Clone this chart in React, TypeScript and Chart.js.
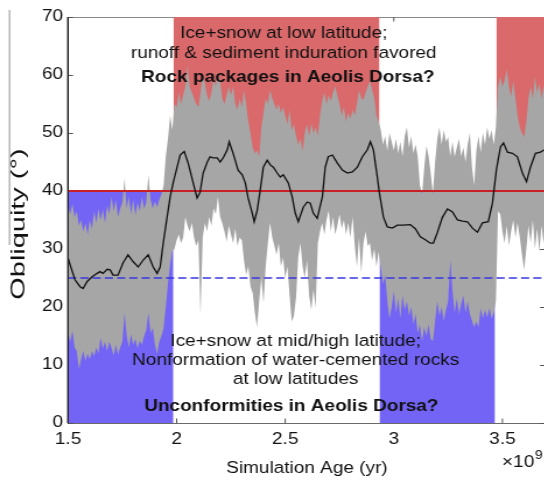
import { useEffect, useRef } from "react";
import { Chart, registerables } from "chart.js";

Chart.register(...registerables);

// ---------- data ----------
const AGE_START = 1.5; // ×10^9 yr
const AGE_STEP = 0.01;

// upper envelope of the oscillating obliquity (deg), 1.50 … 3.70
const obliquityUpper = [
  37.5, 36, 37.8, 35.5, 36.5, 34, 35, 33, 34.5, 32.5,
  35, 33.5, 36.5, 34.5, 37, 35, 36.8, 34.5, 37.5, 36,
  39, 36.5, 38.5, 35.5, 37, 38, 42.2, 37, 39, 36,
  38.5, 35.8, 38, 36.5, 39, 37, 38, 42.8, 38.5, 37,
  38.2, 37.2, 38.5, 39.5, 41, 46, 49, 53, 50.5, 55,
  54.5, 57, 55, 56.5, 58, 61.7, 58, 57, 56, 55,
  54.5, 57, 60, 58.5, 56.5, 55.5, 57, 59.5, 58, 60.5,
  59, 56, 55, 56.5, 58, 56.5, 58, 55, 54, 56,
  54.5, 57.4, 55, 52, 50, 47.5, 46.5, 47, 46, 51,
  53.5, 56, 55, 57.4, 56, 55, 54, 55, 53.5, 54.5,
  53, 51.5, 54, 50.5, 51.5, 49.5, 48, 49, 47, 50,
  51.5, 49.5, 51.7, 50, 51, 49.5, 53, 55.5, 57, 55,
  56.5, 55.5, 57, 58, 56.5, 55, 53, 54.5, 52, 53.5,
  52.5, 54, 53, 55, 57.4, 56, 55.7, 57, 58, 59,
  57.4, 56, 53, 52, 50.5, 48, 49.5, 47, 50, 48.5,
  47, 49, 46.5, 48.5, 46, 49.5, 51, 47.5, 49.5, 46.5,
  48, 46, 41, 39.5, 44, 47.8, 46, 43, 39.5, 45,
  49, 51, 48, 50.5, 48.5, 49.3, 46, 48.5, 45.9, 47.5,
  49, 46, 47.5, 45, 48, 50, 44, 41, 47, 49.5,
  46.7, 50, 48, 51, 49, 50.5, 48, 51, 58, 59.7,
  58, 59, 61, 58, 56.3, 59, 56, 53, 51, 50,
  49.3, 52, 56, 58, 56, 59.7, 57, 58.5, 56, 58,
  57,
];

// lower envelope of the oscillating obliquity (deg), 1.50 … 3.70
const obliquityLower = [
  15.5, 14, 15.9, 13, 12.4, 9.3, 11, 12.4, 10.7, 12,
  11, 12.4, 11.5, 13, 12, 14.7, 12.8, 14, 12.4, 14,
  13, 11.6, 13.5, 11.8, 13, 14, 19, 15, 13, 15.3,
  13.5, 14.5, 12.9, 14.2, 13.5, 15, 16, 19, 15.5, 16.4,
  13.5, 11.9, 14, 15, 16.4, 20, 24, 27.5, 29.7, 30,
  31.5, 32.5, 31, 32, 35.5, 34, 33, 34.5, 32, 30.5,
  31.5, 18.6, 32, 34.5, 33, 35.5, 34, 37, 36, 39,
  35.5, 34.5, 33, 31.3, 34, 32.5, 31, 33.5, 30.5, 32,
  31.5, 28, 25.5, 27, 23.5, 22.4, 19, 16.5, 21, 25,
  20.7, 27, 31, 34.5, 32, 30.5, 29, 31, 27, 28.5,
  25, 27, 22, 17.5, 18.5, 21.7, 28.6, 31, 27, 25,
  28, 22, 19.5, 23, 19.8, 31, 33, 34.5, 32.5, 35,
  36.6, 33, 35.5, 32.5, 34, 36, 33.5, 35, 32.5, 34.5,
  32, 35.5, 30.5, 27, 32, 26, 31, 33, 30.5, 31,
  28, 30, 27, 29.5, 26.7, 24, 25.5, 21, 18, 20,
  22.7, 19, 21.5, 18, 22, 19.5, 21, 18.5, 20, 17,
  18.8, 15.5, 17, 14.1, 16.5, 15, 17, 14.5, 14.1, 17.6,
  21, 18.5, 20, 17.6, 19.5, 21, 28, 22.8, 19, 21.5,
  18.8, 20.5, 22, 19, 21, 18.8, 17.6, 16.5, 17.5, 16.5,
  19.8, 18, 19.5, 18.2, 19.8, 18, 19, 21, 36.5, 36,
  33, 31, 34, 30.5, 33, 35, 32, 34.5, 32, 29,
  26.4, 30, 34, 31, 35, 30, 33.5, 29.5, 34, 31,
  33,
];

// running mean obliquity
const meanAge = [
  1.5, 1.517, 1.532, 1.555, 1.569, 1.588, 1.611, 1.634, 1.647, 1.661,
  1.68, 1.694, 1.707, 1.73, 1.753, 1.776, 1.8, 1.823, 1.846, 1.869,
  1.892, 1.91, 1.924, 1.938, 1.956, 1.97, 1.984, 2.002, 2.016, 2.035,
  2.053, 2.076, 2.094, 2.108, 2.122, 2.141, 2.154, 2.168, 2.187, 2.2,
  2.214, 2.233, 2.242, 2.26, 2.283, 2.302, 2.316, 2.329, 2.348, 2.357,
  2.371, 2.385, 2.399, 2.417, 2.431, 2.445, 2.463, 2.477, 2.491, 2.514,
  2.532, 2.546, 2.56, 2.583, 2.601, 2.615, 2.629, 2.647, 2.671, 2.684,
  2.698, 2.717, 2.74, 2.763, 2.786, 2.809, 2.832, 2.855, 2.878, 2.892,
  2.906, 2.924, 2.933, 2.952, 2.97, 2.993, 3.016, 3.044, 3.076, 3.099,
  3.122, 3.145, 3.168, 3.182, 3.2, 3.224, 3.247, 3.27, 3.293, 3.316,
  3.339, 3.362, 3.385, 3.408, 3.435, 3.454, 3.472, 3.491, 3.505, 3.523,
  3.546, 3.569, 3.592, 3.611, 3.629, 3.652, 3.675, 3.694, 3.7,
];
const meanObliquity = [
  28.4, 26.4, 24.7, 23.5, 23.2, 24.4, 25.2, 25.8, 26.1, 25.8,
  26.5, 26.4, 25.5, 25.5, 27.6, 29, 27.8, 26.9, 28.1, 29,
  26.9, 25.8, 26.9, 31, 35.5, 39, 41.4, 44.1, 46.2, 46.8,
  44.8, 41.4, 38.8, 39.8, 43.1, 45, 45.9, 45.7, 45.7, 45,
  45.7, 47.1, 48.5, 46.5, 43.6, 42.8, 41.4, 38.8, 36.2, 34.7,
  36.7, 40.2, 44.1, 45.3, 44.5, 44.1, 43.1, 42.4, 42.8, 41.4,
  39, 36.2, 34.7, 37.2, 38.1, 37.9, 36.2, 35.3, 39, 44.1,
  45.9, 46.2, 44.8, 43.6, 43.1, 43.3, 44.1, 45.9, 47.1, 48.5,
  47.1, 42.4, 39.8, 35.5, 33.8, 33.6, 34.1, 34.1, 34.2, 33.5,
  32.1, 31.6, 31, 31, 32.8, 35.5, 36.9, 36.4, 35, 34.8,
  34.7, 33.6, 32.9, 34.5, 34.7, 37.9, 43.6, 47.6, 48.3, 46.7,
  46.5, 45.9, 43.1, 41.6, 44.1, 46.5, 46.7, 47.1, 47.2,
];

// shaded periods (×10^9 yr)
const warmStart = [1.985, 3.472];
const warmEnd = [2.934, 3.7];
const coldStart = [1.5, 2.934];
const coldEnd = [1.985, 3.466];

const THRESHOLD = 40;
const REFERENCE = 25;
const X_MIN = 1.5;
const X_MAX = 3.7;
const Y_MIN = 0;
const Y_MAX = 70;
const xTickValues = [1.5, 2, 2.5, 3, 3.5];
const yTickValues = [0, 10, 20, 30, 40, 50, 60, 70];

const Y_TITLE = "Obliquity (°)";
const X_TITLE = "Simulation Age (yr)";
const upperNote = [
  "Ice+snow at low latitude;",
  "runoff & sediment induration favored",
  "Rock packages in Aeolis Dorsa?",
];
const lowerNote = [
  "Ice+snow at mid/high latitude;",
  "Nonformation of water-cemented rocks",
  "at low latitudes",
  "Unconformities in Aeolis Dorsa?",
];

// ---------- layout / style ----------
const STRETCH = 1.165;
const CANVAS_W = 470;
const CANVAS_H = 482;
const PLOT_LEFT = 68 / STRETCH;
const PLOT_RIGHT = 545.4 / STRETCH;
const FONT = '"Liberation Sans", Arial, Helvetica, sans-serif';
const FS = 16.3;

const upperNotePos = [
  { x: 2.493, y: 66.38, bold: false },
  { x: 2.493, y: 62.93, bold: false },
  { x: 2.512, y: 58.79, bold: true },
];
const lowerNotePos = [
  { x: 2.548, y: 13.28, bold: false },
  { x: 2.548, y: 10.0, bold: false },
  { x: 2.548, y: 6.78, bold: false },
  { x: 2.528, y: 2.0, bold: true },
];

const RED_FILL = "rgb(217,105,107)";
const BLUE_FILL = "rgb(115,100,245)";
const GRAY_FILL = "rgb(166,166,166)";
const RED_LINE = "rgb(200,32,38)";
const DASH_LINE = "rgb(55,55,225)";

const framePlugin = {
  id: "frame",
  beforeDatasetsDraw(chart: any) {
    const { ctx, chartArea: a, scales } = chart;
    const xs = scales.x;
    const ys = scales.y;
    ctx.save();
    ctx.lineWidth = 1;
    ctx.strokeStyle = "#8a8a8a";
    ctx.beginPath();
    ctx.moveTo(a.left, a.top + 0.5);
    ctx.lineTo(a.right, a.top + 0.5);
    ctx.moveTo(a.right - 0.5, a.top);
    ctx.lineTo(a.right - 0.5, a.bottom);
    ctx.stroke();
    ctx.strokeStyle = "#555";
    ctx.beginPath();
    for (const v of xTickValues) {
      const px = xs.getPixelForValue(v);
      ctx.moveTo(px, a.bottom);
      ctx.lineTo(px, a.bottom - 4.5);
      ctx.moveTo(px, a.top);
      ctx.lineTo(px, a.top + 4.5);
    }
    for (const v of yTickValues) {
      const py = Math.round(ys.getPixelForValue(v)) + 0.5;
      ctx.moveTo(a.left, py);
      ctx.lineTo(a.left + 4.3, py);
      ctx.moveTo(a.right, py);
      ctx.lineTo(a.right - 5, py);
    }
    ctx.stroke();
    ctx.restore();
  },
  afterDatasetsDraw(chart: any) {
    const { ctx, chartArea: a, scales } = chart;
    const xs = scales.x;
    const ys = scales.y;
    ctx.save();
    // left axis line
    ctx.strokeStyle = "#222";
    ctx.lineWidth = 1.2;
    ctx.beginPath();
    ctx.moveTo(a.left - 0.2, a.top);
    ctx.lineTo(a.left - 0.2, a.bottom);
    ctx.stroke();
    // notes
    ctx.fillStyle = "#111";
    ctx.textAlign = "center";
    ctx.textBaseline = "alphabetic";
    const drawNote = (lines: string[], pos: { x: number; y: number; bold: boolean }[]) => {
      lines.forEach((t, i) => {
        const p = pos[i];
        ctx.font = `${p.bold ? "bold " : ""}${FS}px ${FONT}`;
        ctx.fillText(t, xs.getPixelForValue(p.x), ys.getPixelForValue(p.y));
      });
    };
    drawNote(upperNote, upperNotePos);
    drawNote(lowerNote, lowerNotePos);
    ctx.restore();
  },
  afterDraw(chart: any) {
    const { ctx, chartArea: a, scales } = chart;
    const xs = scales.x;
    ctx.save();
    ctx.fillStyle = "#111";
    ctx.textAlign = "left";
    ctx.textBaseline = "alphabetic";
    const x0 = xs.getPixelForValue(3.5) - 0.3;
    const yb = a.bottom + 43.7;
    ctx.font = `${FS}px ${FONT}`;
    ctx.fillText("×10", x0, yb);
    const w = ctx.measureText("×10").width;
    ctx.font = `12px ${FONT}`;
    ctx.fillText("9", x0 + w + 0.5, yb - 7.4);
    // y-axis title (elongated like the original)
    ctx.save();
    ctx.translate(18.6 / STRETCH, (a.top + a.bottom) / 2 + 4);
    ctx.rotate(-Math.PI / 2);
    ctx.scale(1.7, 1);
    ctx.font = `17px ${FONT}`;
    ctx.textAlign = "center";
    ctx.textBaseline = "middle";
    ctx.fillText(Y_TITLE, 0, 0);
    ctx.restore();
    // panel edge line at far left
    ctx.strokeStyle = "#909090";
    ctx.lineWidth = 1;
    ctx.beginPath();
    ctx.moveTo(9.5 / STRETCH, 10);
    ctx.lineTo(9.5 / STRETCH, 245);
    ctx.stroke();
    ctx.restore();
  },
};

function buildDatasets() {
  const n = Math.min(obliquityUpper.length, obliquityLower.length);
  const upper: { x: number; y: number }[] = [];
  const lower: { x: number; y: number }[] = [];
  for (let i = 0; i < n; i++) {
    const age = +(AGE_START + i * AGE_STEP).toFixed(3);
    upper.push({ x: age, y: obliquityUpper[i] });
    lower.push({ x: age, y: obliquityLower[i] });
  }
  const mean = meanAge
    .slice(0, Math.min(meanAge.length, meanObliquity.length))
    .map((x, i) => ({ x, y: meanObliquity[i] }));

  const base = {
    pointRadius: 0,
    tension: 0,
    borderWidth: 0,
    borderColor: "rgba(0,0,0,0)",
    fill: false as any,
  };

  const ds: any[] = [
    { ...base, data: mean, borderColor: "#111", borderWidth: 1.3 },
    {
      ...base,
      data: [{ x: X_MIN, y: THRESHOLD }, { x: X_MAX, y: THRESHOLD }],
      borderColor: RED_LINE,
      borderWidth: 2.2,
    },
    {
      ...base,
      data: [{ x: X_MIN, y: REFERENCE }, { x: X_MAX, y: REFERENCE }],
      borderColor: DASH_LINE,
      borderWidth: 1.4,
      borderDash: [7, 3.5],
    },
    { ...base, data: upper, fill: "+1", backgroundColor: GRAY_FILL },
    { ...base, data: lower },
  ];
  warmStart.forEach((s, i) => {
    ds.push({
      ...base,
      data: [{ x: s, y: Y_MAX }, { x: warmEnd[i], y: Y_MAX }],
      fill: { value: THRESHOLD },
      backgroundColor: RED_FILL,
    });
  });
  coldStart.forEach((s, i) => {
    ds.push({
      ...base,
      data: [{ x: s, y: THRESHOLD }, { x: coldEnd[i], y: THRESHOLD }],
      fill: { value: Y_MIN },
      backgroundColor: BLUE_FILL,
    });
  });
  return ds;
}

export default function App() {
  const ref = useRef<HTMLCanvasElement>(null);
  useEffect(() => {
    const canvas = ref.current;
    if (!canvas) return;
    document.documentElement.style.overflow = "hidden";
    const tickFont = { family: FONT, size: FS };
    const chart = new Chart(canvas, {
      type: "line",
      data: { datasets: buildDatasets() },
      plugins: [framePlugin],
      options: {
        responsive: false,
        maintainAspectRatio: false,
        devicePixelRatio: 1,
        animation: false,
        events: [],
        layout: { padding: { top: 17, left: 0, right: CANVAS_W - PLOT_RIGHT, bottom: 0 } },
        plugins: {
          legend: { display: false },
          tooltip: { enabled: false },
          filler: { propagate: false },
        },
        scales: {
          x: {
            type: "linear",
            min: X_MIN,
            max: X_MAX,
            grid: { display: false, drawTicks: false, tickLength: 0 },
            border: { display: true, color: "#6a6a6a", width: 1 },
            afterBuildTicks: (s: any) => {
              s.ticks = xTickValues.map((v) => ({ value: v }));
            },
            afterFit: (s: any) => {
              s.height = CANVAS_H - 423;
            },
            ticks: {
              autoSkip: false,
              maxRotation: 0,
              minRotation: 0,
              padding: 6.5,
              color: "#111",
              font: tickFont,
              callback: (v: any) => String(v),
            },
            title: {
              display: true,
              text: X_TITLE,
              color: "#111",
              font: tickFont,
              padding: { top: 0, bottom: 3.7 },
            },
          },
          y: {
            type: "linear",
            min: Y_MIN,
            max: Y_MAX,
            grid: { display: false, drawTicks: false, tickLength: 0 },
            border: { display: true, color: "#222", width: 1 },
            afterBuildTicks: (s: any) => {
              s.ticks = yTickValues.map((v) => ({ value: v }));
            },
            afterFit: (s: any) => {
              s.width = PLOT_LEFT;
            },
            ticks: {
              autoSkip: false,
              padding: 4.3,
              color: "#111",
              font: tickFont,
              callback: (v: any) => String(v),
            },
            title: { display: false, text: Y_TITLE },
          },
        },
      } as any,
    });
    return () => chart.destroy();
  }, []);

  return (
    <div
      style={{
        position: "fixed",
        left: 0,
        top: 0,
        width: `${CANVAS_W * STRETCH}px`,
        height: `${CANVAS_H}px`,
        overflow: "hidden",
        background: "#fff",
      }}
    >
      <canvas
        ref={ref}
        width={CANVAS_W}
        height={CANVAS_H}
        style={{ display: "block", width: `${CANVAS_W * STRETCH}px`, height: `${CANVAS_H}px` }}
      />
    </div>
  );
}
